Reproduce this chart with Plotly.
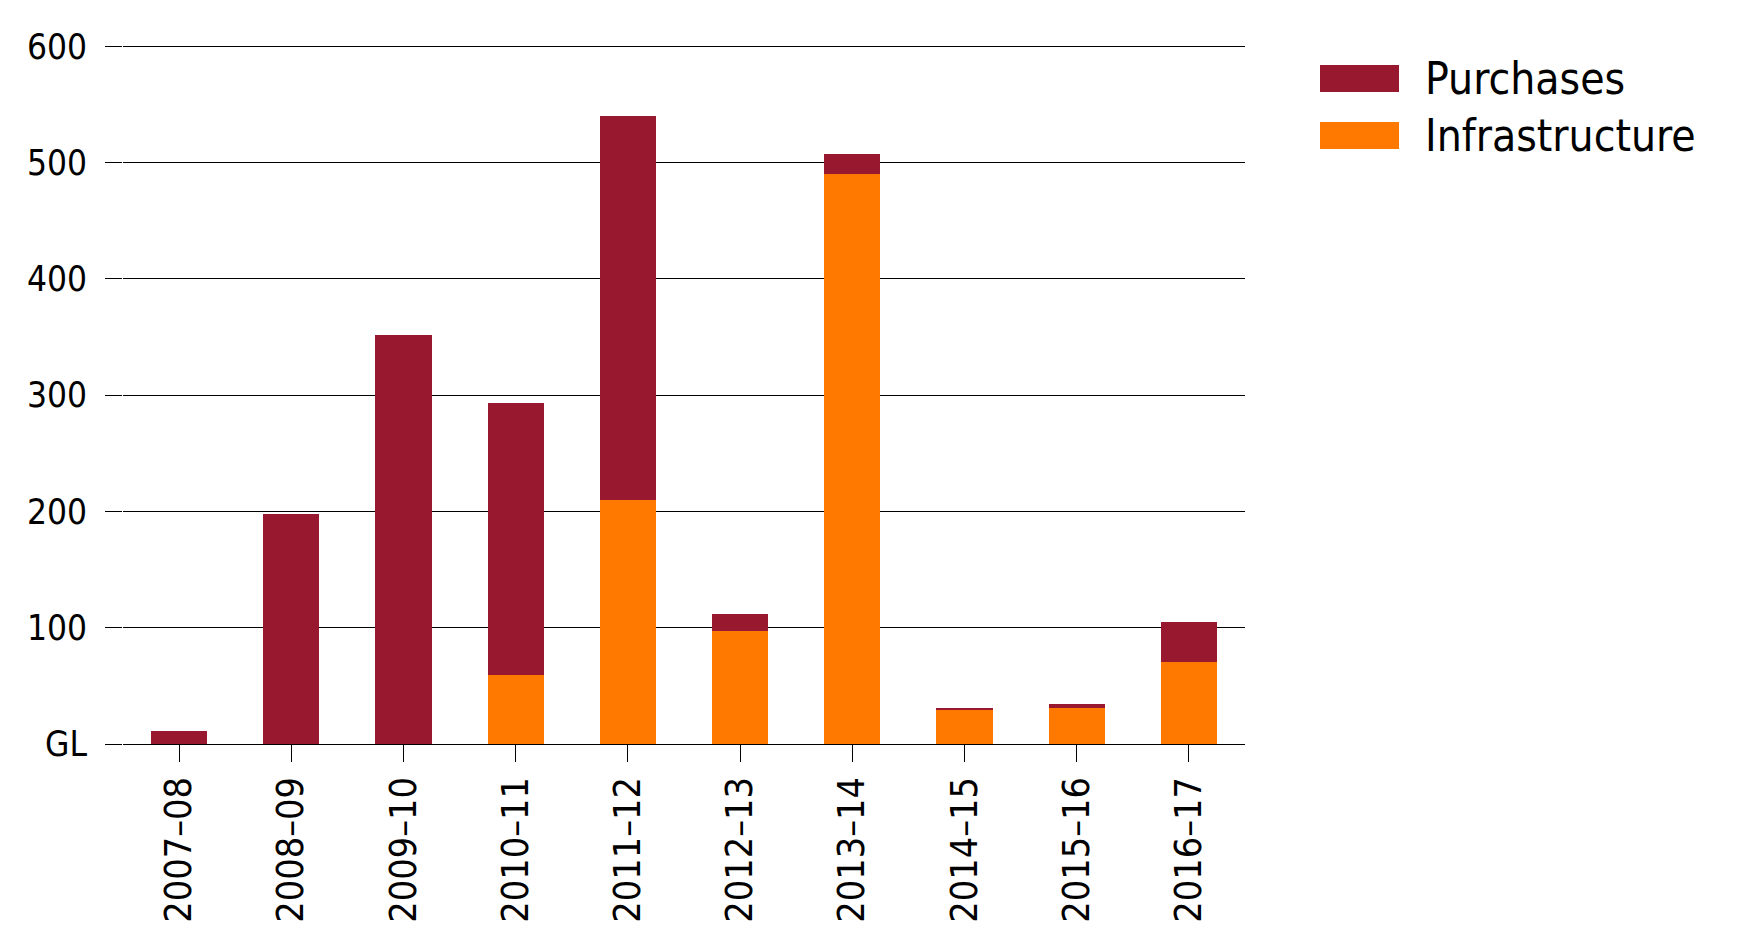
import plotly.graph_objects as go

years = ["2007–08", "2008–09", "2009–10", "2010–11", "2011–12",
         "2012–13", "2013–14", "2014–15", "2015–16", "2016–17"]
infrastructure = [0, 0, 0, 59, 210, 97, 490, 29.5, 31, 70.5]
purchases = [11, 198, 352, 234, 330, 15, 17, 1, 3.5, 34.5]

series_names = ["Purchases", "Infrastructure"]
series_colors = ["#97182F", "#FF7900"]

y_ticks = [0, 100, 200, 300, 400, 500, 600]
y_labels = ["GL", "100", "200", "300", "400", "500", "600"]
y_top = 602

FONT = "DejaVu Sans Condensed, DejaVu Sans, sans-serif"
# page body has an 8px margin, so the figure is 8px smaller than the window
W, H = 1732, 941
ML, MB = 115, 205
plot_w = 1122
plot_h = 697.2 * y_top / 600
MT = H - MB - plot_h
MR = W - ML - plot_w

fig = go.Figure()
fig.add_trace(go.Bar(x=years, y=infrastructure, name=series_names[1],
                     marker=dict(color=series_colors[1], line=dict(width=0))))
fig.add_trace(go.Bar(x=years, y=purchases, name=series_names[0],
                     marker=dict(color=series_colors[0], line=dict(width=0))))

fig.update_layout(
    width=W, height=H,
    margin=dict(l=ML, r=MR, t=MT, b=MB, pad=0),
    barmode="stack",
    bargap=0.5,
    showlegend=False,
    plot_bgcolor="white",
    paper_bgcolor="white",
    font=dict(family=FONT, size=36, color="black"),
)

fig.update_xaxes(
    type="category",
    showgrid=False, showline=False, zeroline=False,
    ticks="outside", ticklen=17, tickwidth=1.3, tickcolor="black",
    tickangle=-90, ticklabelstandoff=0,
    tickfont=dict(family=FONT, size=37.5),
)
fig.update_yaxes(
    range=[0, y_top],
    tickvals=y_ticks, ticktext=y_labels,
    showgrid=True, gridcolor="black", gridwidth=1.3,
    zeroline=True, zerolinecolor="black", zerolinewidth=1.3,
    showline=False,
    ticks="outside", ticklen=17, tickwidth=1.3, tickcolor="black",
    ticklabelstandoff=11,
    tickfont=dict(family=FONT, size=35),
)


# legend drawn by hand to get the large swatches (pixel coords of the figure)
def px_x(px):
    return (px - ML) / plot_w


def px_y(py):
    return (H - MB - py) / plot_h


legend_rows = [71, 128]
for name, color, yc in zip(series_names, series_colors, legend_rows):
    fig.add_shape(type="rect", xref="paper", yref="paper",
                  x0=px_x(1312), x1=px_x(1391),
                  y0=px_y(yc - 13.5), y1=px_y(yc + 13.5),
                  fillcolor=color, line=dict(width=0))
    fig.add_annotation(text=name, xref="paper", yref="paper",
                       x=px_x(1415), y=px_y(yc), xanchor="left", yanchor="middle",
                       showarrow=False, font=dict(family=FONT, size=44, color="black"))

fig.write_html("out.html")
